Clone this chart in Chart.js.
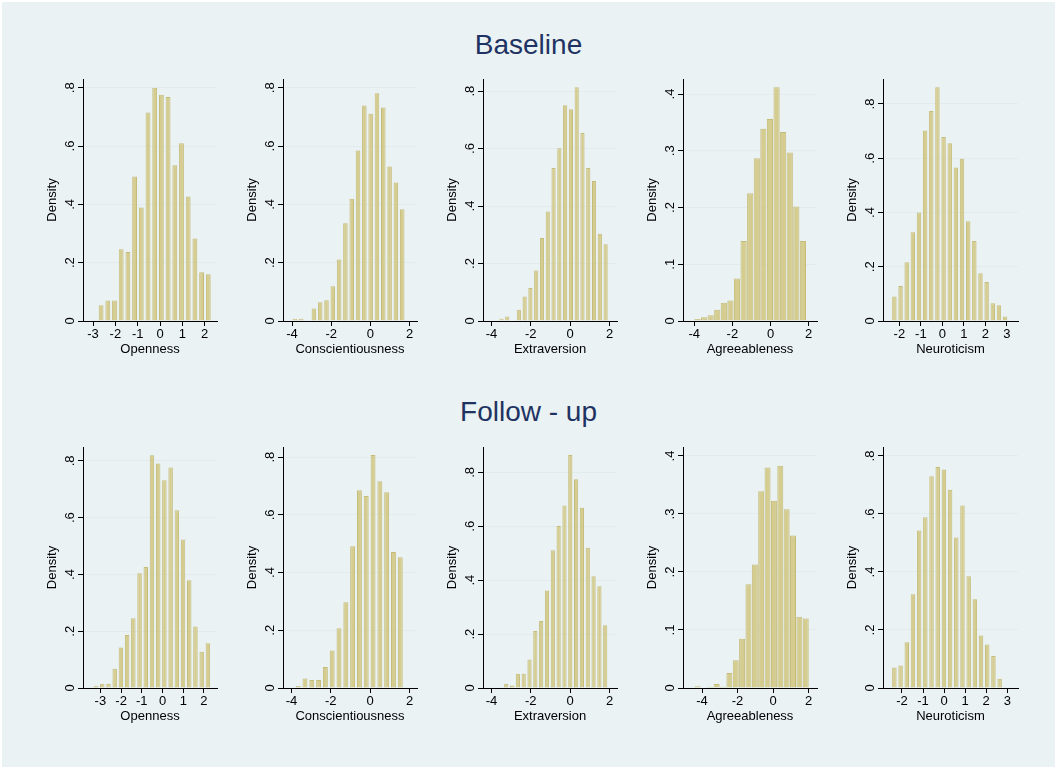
<!DOCTYPE html>
<html>
<head>
<meta charset="utf-8">
<script src="https://cdn.jsdelivr.net/npm/chart.js@4.4.1/dist/chart.umd.min.js"></script>
<style>
  html, body { margin: 0; padding: 0; background: #fff; }
  #page { position: relative; width: 1057px; height: 769px; overflow: hidden; }
  #bg { position: absolute; left: 2px; top: 2px; right: 2px; bottom: 2px; background: #eaf2f3; }
  .title { position: absolute; left: 0; width: 1057px; text-align: center;
           font: 28px/28px "Liberation Sans", Arial, sans-serif; color: #1f3362; }
  canvas { position: absolute; }
</style>
</head>
<body>
<div id="page">
  <div id="bg"></div>
  <div class="title" style="top:31px">Baseline</div>
  <div class="title" style="top:398px">Follow - up</div>
</div>
<script>
const traits = ['Openness', 'Conscientiousness', 'Extraversion', 'Agreeableness', 'Neuroticism'];

// densities, baseline row
const baseOpenness = [0.054, 0.070, 0.070, 0.246, 0.237, 0.496, 0.389, 0.715, 0.800, 0.776, 0.768, 0.534, 0.610, 0.427, 0.283, 0.167, 0.160];
const baseConscientiousness = [0.008, 0.008, 0, 0.043, 0.064, 0.071, 0.119, 0.211, 0.335, 0.419, 0.585, 0.739, 0.711, 0.781, 0.732, 0.530, 0.475, 0.383];
const baseExtraversion = [0.008, 0.016, 0, 0.039, 0.085, 0.115, 0.176, 0.289, 0.381, 0.532, 0.601, 0.751, 0.737, 0.813, 0.654, 0.532, 0.487, 0.304, 0.267];
const baseAgreeableness = [0.0035, 0.0065, 0.010, 0.020, 0.032, 0.036, 0.075, 0.141, 0.225, 0.287, 0.339, 0.356, 0.412, 0.333, 0.297, 0.202, 0.141];
const baseNeuroticism = [0.090, 0.129, 0.217, 0.327, 0.400, 0.702, 0.774, 0.862, 0.678, 0.655, 0.566, 0.598, 0.368, 0.295, 0.176, 0.144, 0.065, 0.058, 0.017];

// follow-up row
const fupOpenness = [0.008, 0.015, 0.015, 0.068, 0.143, 0.187, 0.246, 0.404, 0.426, 0.820, 0.791, 0.732, 0.777, 0.626, 0.523, 0.380, 0.217, 0.128, 0.158];
const fupConscientiousness = [0.007, 0.033, 0.028, 0.028, 0.073, 0.130, 0.207, 0.297, 0.491, 0.685, 0.665, 0.807, 0.716, 0.678, 0.471, 0.453];
const fupExtraversion = [0.016, 0.009, 0.053, 0.053, 0.106, 0.211, 0.249, 0.362, 0.511, 0.601, 0.677, 0.864, 0.774, 0.669, 0.520, 0.415, 0.377, 0.233];
const fupAgreeableness = [0.003, 0, 0.002, 0.007, 0.002, 0.026, 0.048, 0.085, 0.179, 0.213, 0.339, 0.380, 0.323, 0.383, 0.308, 0.263, 0.123, 0.120];
const fupNeuroticism = [0.071, 0.078, 0.158, 0.323, 0.543, 0.589, 0.730, 0.762, 0.753, 0.684, 0.519, 0.629, 0.385, 0.306, 0.181, 0.150, 0.110, 0.032];

// midpoint of first bin and bin width for each histogram
const baseFirstBin = [-2.64, -3.85, -3.49, -3.83, -2.23];
const baseBinWidth = [0.300, 0.322, 0.294, 0.3457, 0.286];
const fupFirstBin = [-3.21, -3.66, -3.25, -4.25, -2.36];
const fupBinWidth = [0.300, 0.346, 0.296, 0.358, 0.294];

// axis ticks and ranges
const xTicks = [[-3, -2, -1, 0, 1, 2], [-4, -2, 0, 2], [-4, -2, 0, 2], [-4, -2, 0, 2], [-2, -1, 0, 1, 2, 3]];
const yTicksWide = [0, 0.2, 0.4, 0.6, 0.8];
const yTicksNarrow = [0, 0.1, 0.2, 0.3, 0.4];
const baseXRange = [[-3.45, 2.55], [-4.46, 2.38], [-4.43, 2.38], [-4.59, 2.44], [-2.76, 3.52]];
const baseYMax = [0.83, 0.83, 0.842, 0.4265, 0.892];
const fupXRange = [[-3.84, 2.63], [-4.43, 2.38], [-4.43, 2.38], [-5.07, 2.47], [-2.90, 3.51]];
const fupYMax = [0.849, 0.835, 0.894, 0.4155, 0.831];

// plot region placement on the page
const colLeft = [83, 283, 483, 683, 883];
const colRight = [217, 417, 617, 817, 1018];
const rowTop = [79, 447];
const rowBottom = [321, 688];

const page = document.getElementById('page');
const tickFont = { family: '"Liberation Sans", Arial, sans-serif', size: 13 };

function fmtY(v) {
    return v === 0 ? '0' : String(v).replace('0.', '.');
}

function makePanel(row, col, values, first, width, xr, ymax) {
    const L = colLeft[col], R = colRight[col], T = rowTop[row], B = rowBottom[row];
    const w = R - L + 52, h = B - T + 59;
    const cv = document.createElement('canvas');
    cv.width = w; cv.height = h;
    cv.style.left = (L - 50) + 'px';
    cv.style.top = (T - 14) + 'px';
    cv.style.width = w + 'px';
    cv.style.height = h + 'px';
    page.appendChild(cv);

    const yt = ymax < 0.5 ? yTicksNarrow : yTicksWide;
    const wideBars = col === 3; // agreeableness bars touch each other

    new Chart(cv, {
        type: 'bar',
        data: {
            datasets: [{
                data: values.map((v, i) => ({ x: first + i * width, y: v })),
                backgroundColor: '#d5cc90',
                borderColor: '#c6bc7a',
                borderWidth: 1,
                barPercentage: wideBars ? 0.94 : 0.72,
                categoryPercentage: 1
            }]
        },
        options: {
            responsive: false,
            animation: false,
            layout: { padding: { left: 0, top: 14, right: 2, bottom: 0 } },
            plugins: { legend: { display: false }, tooltip: { enabled: false } },
            scales: {
                x: {
                    type: 'linear',
                    min: xr[0], max: xr[1],
                    offset: false,
                    afterBuildTicks: s => { s.ticks = xTicks[col].map(v => ({ value: v })); },
                    afterFit: s => { s.height = 45; },
                    grid: { offset: false, drawOnChartArea: false, tickLength: 5, tickColor: '#000' },
                    border: { color: '#000', width: 1 },
                    ticks: { padding: 1, color: '#000', font: tickFont, maxRotation: 0, autoSkip: false,
                             callback: v => String(v) },
                    title: { display: true, text: traits[col], color: '#000', font: tickFont,
                             padding: { top: 0, bottom: 9 } }
                },
                y: {
                    min: 0, max: ymax,
                    afterBuildTicks: s => { s.ticks = yt.map(v => ({ value: v })); },
                    afterFit: s => { s.width = 50; },
                    grid: { color: c => (c.tick && c.tick.value === 0) ? 'rgba(0,0,0,0)' : '#e2ebed',
                            tickLength: 5, tickColor: '#000' },
                    border: { color: '#000', width: 1 },
                    ticks: { minRotation: 90, maxRotation: 90, crossAlign: 'center', padding: 2,
                             color: '#000', font: tickFont, autoSkip: false, callback: v => fmtY(v) },
                    title: { display: true, text: 'Density', color: '#000', font: tickFont,
                             padding: { top: 12, bottom: 0 } }
                }
            }
        }
    });
}

const baseRows = [baseOpenness, baseConscientiousness, baseExtraversion, baseAgreeableness, baseNeuroticism];
const fupRows = [fupOpenness, fupConscientiousness, fupExtraversion, fupAgreeableness, fupNeuroticism];

for (let c = 0; c < 5; c++) {
    makePanel(0, c, baseRows[c], baseFirstBin[c], baseBinWidth[c], baseXRange[c], baseYMax[c]);
    makePanel(1, c, fupRows[c], fupFirstBin[c], fupBinWidth[c], fupXRange[c], fupYMax[c]);
}
</script>
</body>
</html>
